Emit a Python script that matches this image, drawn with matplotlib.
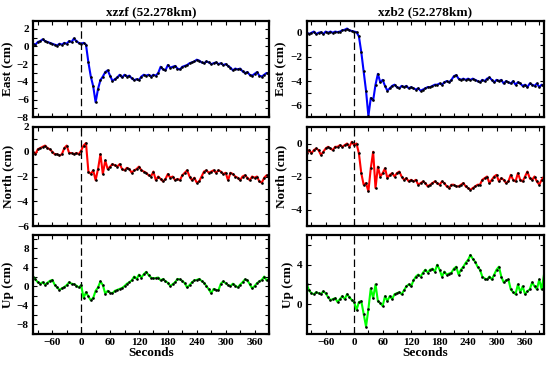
import numpy as np
import matplotlib
matplotlib.use("Agg")
import matplotlib.pyplot as plt
from matplotlib.ticker import MultipleLocator

plt.rcParams['font.family'] = ['Liberation Serif', 'DejaVu Serif']
plt.rcParams['font.weight'] = 'bold'

# sample times (s), 5 s steps
t_left = np.arange(-100, 391, 5)
t_right = np.arange(-100, 401, 5)

# station xzzf
xzzf_east = [0.3, 0.2, 0.5, 0.6, 0.8, 0.6, 0.5, 0.4, 0.3, 0.2,
             0.1, 0.3, 0.2, 0.4, 0.3, 0.6, 0.5, 0.9, 0.6, 0.4,
             0.3, 0.4, 0.2, -1.8, -3.4, -4.5, -6.3, -4.8, -3.8, -3.4,
             -2.9, -2.7, -3.3, -3.9, -3.7, -3.5, -3.2, -3.5, -3.2, -3.4,
             -3.3, -3.6, -3.8, -3.7, -3.8, -3.4, -3.2, -3.3, -3.2, -3.4,
             -3.2, -3.3, -3.0, -2.3, -2.6, -2.7, -2.1, -2.4, -2.3, -2.2,
             -2.5, -2.6, -2.3, -2.2, -2.1, -1.9, -1.8, -1.7, -1.5, -1.6,
             -1.8, -1.9, -1.7, -1.8, -2.0, -1.9, -1.8, -2.0, -1.9, -2.1,
             -2.0, -2.2, -2.4, -2.7, -2.5, -2.6, -2.5, -2.8, -3.0, -2.9,
             -3.2, -3.3, -3.1, -2.9, -3.3, -3.4, -3.2, -3.0, -3.1]
xzzf_north = [0.0, -0.2, 0.2, 0.3, 0.4, 0.5, 0.3, 0.2, 0.0, -0.2,
              -0.2, -0.3, -0.2, 0.3, 0.5, -0.1, -0.1, -0.2, -0.1, -0.2,
              0.1, 0.5, 0.7, -1.6, -1.8, -1.5, -2.3, -1.4, -0.2, -1.8,
              -0.7, -1.4, -1.2, -1.0, -1.1, -1.2, -1.0, -1.4, -1.5, -1.3,
              -1.4, -1.7, -1.5, -1.4, -1.2, -1.5, -1.6, -1.7, -1.9, -2.0,
              -1.6, -2.3, -2.0, -2.2, -2.4, -2.2, -1.8, -2.1, -2.0, -2.3,
              -2.2, -2.3, -1.9, -1.7, -1.5, -2.0, -2.3, -2.1, -2.5, -2.4,
              -2.0, -1.6, -1.5, -1.7, -1.6, -1.5, -1.7, -1.5, -1.6, -1.8,
              -1.7, -2.3, -1.7, -1.8, -2.0, -2.1, -2.3, -2.0, -1.9, -2.1,
              -2.3, -2.0, -2.1, -2.0, -2.4, -2.5, -2.1, -1.9, -2.0]
xzzf_up = [2.0, 1.4, 0.8, 0.5, 0.8, 0.3, 0.7, 1.1, 1.3, 0.3,
           -0.3, -0.8, -0.5, -0.2, 0.2, 0.8, 0.5, 0.4, 0.1, -0.3,
           0.2, -2.5, -1.3, -2.2, -3.0, -2.5, -1.0, -0.3, 1.0, 0.2,
           -1.6, -1.0, -1.4, -1.5, -1.0, -0.8, -0.6, -0.4, 0.0, 0.5,
           0.8, 1.2, 2.0, 1.5, 2.4, 1.8, 2.5, 3.0, 2.3, 1.8,
           1.6, 1.7, 1.8, 1.2, 1.5, 1.0, 0.7, 0.0, 0.4, 0.8,
           1.5, 1.4, 1.1, 0.6, -0.3, 0.2, 0.8, 1.2, 1.3, 1.5,
           1.1, 0.7, 0.0, -0.7, -1.5, -0.6, -0.8, -0.9, 0.5, 1.0,
           0.6, 0.2, 0.0, 0.5, 0.1, -0.3, 0.3, 0.8, 1.4, 1.2,
           0.4, -0.5, 0.0, 0.6, 1.0, 1.3, 2.0, 1.2, 1.5]

# station xzb2
xzb2_east = [0.0, -0.1, 0.0, 0.1, -0.1, 0.0, 0.05, -0.1, 0.1, 0.0,
             0.1, 0.0, 0.1, 0.05, 0.1, 0.2, 0.25, 0.35, 0.2, 0.15,
             0.1, 0.05, -0.3, -1.6, -3.2, -4.8, -6.9, -5.4, -5.6, -4.3,
             -3.4, -4.1, -3.9, -4.4, -4.8, -4.6, -4.4, -4.3, -4.5, -4.6,
             -4.4, -4.5, -4.4, -4.6, -4.5, -4.6, -4.7, -4.6, -4.8, -4.7,
             -4.6, -4.5, -4.5, -4.4, -4.3, -4.3, -4.2, -4.3, -4.1, -4.0,
             -4.1, -3.9, -3.6, -3.5, -3.8, -3.9, -3.8, -3.9, -3.8, -3.9,
             -3.8, -3.9, -4.0, -4.1, -3.9, -4.0, -3.8, -3.7, -3.9, -4.1,
             -3.9, -4.0, -3.9, -4.2, -4.0, -4.1, -4.2, -4.0, -4.3, -4.1,
             -4.2, -4.4, -4.3, -4.5, -4.2, -4.3, -4.4, -4.2, -4.5, -4.3,
             -4.4]
xzb2_north = [-0.6, -0.4, -0.6, -0.4, -0.3, -0.4, -0.7, -0.5, -0.3, -0.2,
              -0.3, -0.4, -0.2, -0.2, -0.1, -0.2, -0.1, 0.0, -0.2, 0.1,
              -0.1, 0.0, -0.6, -1.8, -2.5, -2.4, -2.9, -1.5, -0.5, -2.7,
              -1.4, -2.0, -1.8, -1.5, -2.1, -1.9, -1.8, -2.0, -1.8, -1.7,
              -2.0, -2.2, -2.1, -2.3, -2.2, -2.3, -2.2, -2.5, -2.4, -2.3,
              -2.4, -2.6, -2.5, -2.4, -2.3, -2.4, -2.5, -2.3, -2.4, -2.6,
              -2.7, -2.5, -2.5, -2.6, -2.6, -2.5, -2.4, -2.6, -2.7, -2.8,
              -2.7, -2.6, -2.5, -2.5, -2.2, -2.1, -2.0, -2.4, -2.2, -2.0,
              -1.9, -2.3, -2.1, -2.2, -2.4, -2.3, -1.9, -2.2, -2.3, -1.8,
              -2.2, -2.3, -2.0, -1.7, -2.1, -2.2, -2.0, -2.3, -2.5, -2.2,
              -2.0]
xzb2_up = [2.0, 1.4, 1.1, 1.0, 1.2, 1.1, 1.0, 1.3, 1.1, 0.7,
           0.4, 0.5, 0.6, 0.2, 0.5, 0.8, 0.5, 1.0, 0.7, 0.4,
           0.2, -0.6, 0.2, 0.3, -1.0, -2.3, -0.5, 1.6, 0.6, 2.0,
           0.3, 0.1, -0.2, 0.8, 0.3, 0.8, 0.5, 1.0, 1.1, 1.2,
           1.0, 1.4, 1.8, 2.0, 1.8, 2.4, 2.8, 3.0, 2.8, 3.2,
           3.5, 3.2, 3.5, 3.6, 3.3, 4.0, 3.5, 2.8, 3.3, 3.0,
           3.1, 3.2, 3.6, 3.8, 3.0, 3.5, 3.8, 4.2, 4.5, 5.0,
           4.6, 4.3, 3.8, 3.5, 2.8, 2.6, 2.5, 2.8, 2.5, 3.0,
           3.5, 3.8, 2.8, 2.2, 2.4, 2.5, 1.5, 1.2, 1.0, 2.0,
           1.2, 1.8, 1.0, 1.3, 1.5, 2.2, 1.8, 1.5, 2.5, 1.5,
           3.0]

components = ['East (cm)', 'North (cm)', 'Up (cm)']
colors = ['#0000ff', '#ff0000', '#00ff00']

stations = [
    ('xzzf (52.278km)', t_left, [xzzf_east, xzzf_north, xzzf_up],
     [(-8, 2.9), (-6, 2), (-10, 10.7)], [2, 2, 4], (-100, 390)),
    ('xzb2 (52.278km)', t_right, [xzb2_east, xzb2_north, xzb2_up],
     [(-7, 1), (-5, 1), (-3, 7)], [2, 2, 4], (-100, 400)),
]

fig = plt.figure(figsize=(5.53, 3.69), dpi=100)

col_x = [(33, 269), (306.7, 544)]
row_y = [(20.7, 117.3), (127, 226), (235.3, 333.5)]
W, H = 553.0, 369.0

for c, (title, t, series, ylims, ysteps, xlim) in enumerate(stations):
    x0, x1 = col_x[c]
    for r in range(3):
        y0, y1 = row_y[r]
        ax = fig.add_axes([x0 / W, 1 - y1 / H, (x1 - x0) / W, (y1 - y0) / H])
        ax.plot(t, series[r], color=colors[r], lw=1.5, zorder=2)
        ax.plot(t, series[r], 'o', color='black', ms=1.9, mew=0, zorder=3)
        ax.axvline(0, color='black', ls=(0, (6, 3)), lw=0.9, zorder=1)
        ax.set_xlim(*xlim)
        ax.set_ylim(*ylims[r])
        ax.xaxis.set_major_locator(MultipleLocator(60))
        ax.xaxis.set_minor_locator(MultipleLocator(30))
        ax.yaxis.set_major_locator(MultipleLocator(ysteps[r]))
        ax.yaxis.set_minor_locator(MultipleLocator(ysteps[r] / 2))
        ax.tick_params(which='both', direction='in', top=True, right=True,
                       length=3, width=0.8, labelsize=8, pad=3)
        for s in ax.spines.values():
            s.set_linewidth(1.6)
        ax.set_ylabel(components[r], fontsize=9.5, fontweight='bold', labelpad=2)
        for lab in ax.get_yticklabels() + ax.get_xticklabels():
            lab.set_fontweight('bold')
        if r == 0:
            ax.set_title(title, fontsize=9.5, fontweight='bold', pad=4)
        if r < 2:
            ax.set_xticklabels([])
        else:
            ax.set_xlabel('Seconds', fontsize=9.5, fontweight='bold', labelpad=0)

fig.savefig('out.png', dpi=100)
